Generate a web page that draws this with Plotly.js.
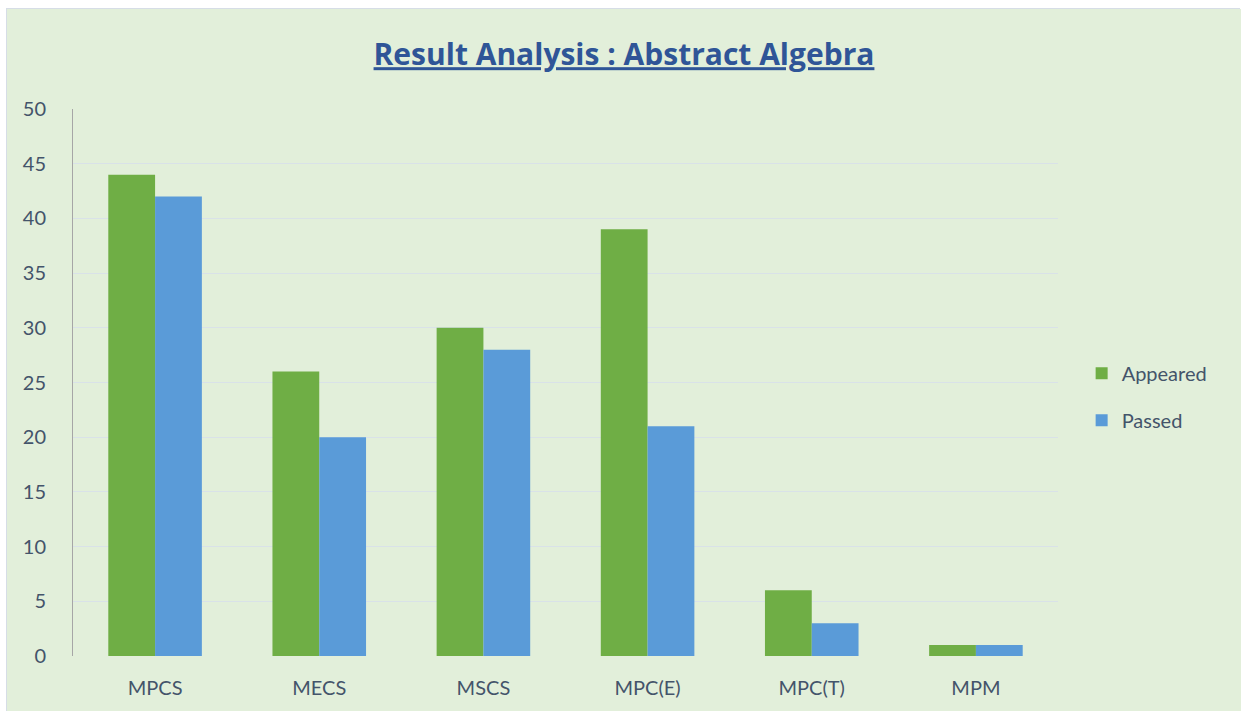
<!DOCTYPE html>
<html>
<head>
<meta charset="utf-8">
<script src="https://cdn.plot.ly/plotly-3.0.1.min.js"></script>
<style>
html,body{margin:0;padding:0;background:#ffffff;width:1241px;height:711px;overflow:hidden;}
#chart{position:absolute;left:6px;top:8px;width:1234px;height:703px;border-left:1px solid #d6dde6;border-top:1px solid #d6dde6;box-sizing:border-box;}
</style>
</head>
<body>
<div id="chart"></div>
<script>
const categories = ["MPCS", "MECS", "MSCS", "MPC(E)", "MPC(T)", "MPM"];
const appeared = [44, 26, 30, 39, 6, 1];
const passed = [42, 20, 28, 21, 3, 1];
const yTicks = [0, 5, 10, 15, 20, 25, 30, 35, 40, 45, 50];

const font = "Lato, 'Open Sans', sans-serif";
const traces = [
  {type: "bar", name: "Appeared", legendgroup: "a", x: categories, y: appeared,
   marker: {color: "#6fae45"}},
  {type: "bar", name: "Passed", legendgroup: "p", x: categories, y: passed,
   marker: {color: "#5a9bd8"}}
];
const layout = {
  width: 1234, height: 703,
  paper_bgcolor: "#e2efda", plot_bgcolor: "#e2efda",
  margin: {l: 66, r: 183, t: 100, b: 56},
  title: {text: "<b><u>Result Analysis : Abstract Algebra</u></b>", x: 0.5, xanchor: "center",
          y: 0.935, yanchor: "middle",
          font: {family: "'Open Sans', sans-serif", size: 30, color: "#2f5597"}},
  barmode: "group", bargap: 0.43, bargroupgap: 0,
  xaxis: {showline: false, showgrid: false, ticks: "", zeroline: false, ticklabelstandoff: 18,
          tickfont: {family: font, size: 20, color: "#44546a"}},
  yaxis: {range: [0, 50], tickvals: yTicks, showline: true, linecolor: "#a6a6a6", linewidth: 1,
          gridcolor: "#d9e2e8", gridwidth: 1, zeroline: false, ticks: "", ticklen: 0,
          tickfont: {family: font, size: 20, color: "#44546a"}, ticklabelstandoff: 22},
  legend: {x: 1.024, y: 0.474, xanchor: "left", yanchor: "middle",
           font: {family: font, size: 20, color: "#44546a"}, tracegroupgap: 18, itemwidth: 30},
  showlegend: true
};
Plotly.newPlot("chart", traces, layout, {displayModeBar: false, staticPlot: true});
</script>
</body>
</html>
